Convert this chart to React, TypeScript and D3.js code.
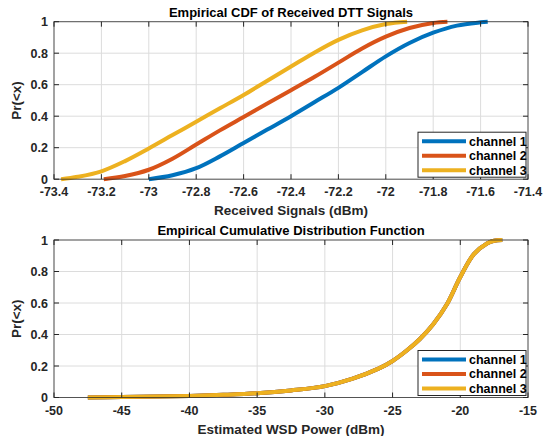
import React from "react";
import * as d3 from "d3";

const seriesNames = ["channel 1", "channel 2", "channel 3"];
const seriesColors = ["#0072BD", "#D95319", "#EDB120"];

// Top chart: Received Signals (dBm) vs Pr(<x)
const topX1 = [-73.0, -72.9, -72.8, -72.7, -72.6, -72.5, -72.4, -72.3, -72.2, -72.1, -72.0, -71.9, -71.8, -71.7, -71.6, -71.57];
const topY1 = [0.0, 0.025, 0.07, 0.145, 0.23, 0.315, 0.40, 0.49, 0.58, 0.68, 0.78, 0.865, 0.93, 0.975, 0.996, 1.0];
const topX2 = [-73.19, -73.1, -73.0, -72.9, -72.8, -72.7, -72.6, -72.5, -72.4, -72.3, -72.2, -72.1, -72.0, -71.9, -71.8, -71.74];
const topY2 = [0.0, 0.02, 0.06, 0.13, 0.22, 0.31, 0.395, 0.48, 0.565, 0.65, 0.74, 0.83, 0.905, 0.96, 0.992, 1.0];
const topX3 = [-73.37, -73.3, -73.2, -73.1, -73.0, -72.9, -72.8, -72.7, -72.6, -72.5, -72.4, -72.3, -72.2, -72.1, -72.0, -71.91];
const topY3 = [0.0, 0.015, 0.05, 0.115, 0.195, 0.28, 0.365, 0.45, 0.535, 0.625, 0.715, 0.805, 0.885, 0.945, 0.985, 1.0];

// Bottom chart: Estimated WSD Power (dBm) vs Pr(<x)
const botX = [-47.5, -45, -42.5, -40, -37.5, -35, -32.5, -30, -28, -26, -25, -24, -23, -22, -21, -20, -19, -18, -17.5, -16.9];
const botY = [0.0, 0.003, 0.006, 0.01, 0.017, 0.027, 0.045, 0.072, 0.118, 0.185, 0.232, 0.295, 0.37, 0.465, 0.59, 0.765, 0.91, 0.98, 0.995, 1.0];

const topXTicks = [-73.4, -73.2, -73, -72.8, -72.6, -72.4, -72.2, -72, -71.8, -71.6, -71.4];
const botXTicks = [-50, -45, -40, -35, -30, -25, -20, -15];
const yTicks = [0, 0.2, 0.4, 0.6, 0.8, 1];

const FONT = "'Liberation Sans', Arial, Helvetica, sans-serif";
const AX = "#262626";

type Series = { xs: number[]; ys: number[]; color: string; name: string };

function Panel(props: {
  top: number;
  xDomain: [number, number];
  xTicks: number[];
  title: string;
  xLabel: string;
  series: Series[];
}) {
  const left = 54;
  const right = 528;
  const height = 157.5;
  const { top } = props;
  const bottom = top + height;
  const x = d3.scaleLinear().domain(props.xDomain).range([left, right]);
  const y = d3.scaleLinear().domain([0, 1]).range([bottom, top]);
  const line = d3
    .line<[number, number]>()
    .x((d) => x(d[0]))
    .y((d) => y(d[1]))
    .curve(d3.curveCatmullRom.alpha(0.5));
  const fmt = (v: number) => String(+v.toFixed(1));
  const tl = 5;
  const legX = 418;
  const legW = 108;
  const legH = 45;
  const legY = bottom - 2 - legH;
  return (
    <g>
      {props.xTicks.map((t) => (
        <line key={"gx" + t} x1={x(t)} x2={x(t)} y1={top} y2={bottom} stroke="#dcdcdc" strokeWidth={1} />
      ))}
      {yTicks.map((t) => (
        <line key={"gy" + t} x1={left} x2={right} y1={y(t)} y2={y(t)} stroke="#dcdcdc" strokeWidth={1} />
      ))}
      {props.series.map((s, i) => (
        <path
          key={"s" + i}
          d={line(s.xs.map((v, j) => [v, s.ys[j]] as [number, number])) || ""}
          fill="none"
          stroke={s.color}
          strokeWidth={4}
          strokeLinecap="butt"
        />
      ))}
      <rect x={left} y={top} width={right - left} height={height} fill="none" stroke={AX} strokeOpacity={0.75} strokeWidth={1} />
      {props.xTicks.map((t) => (
        <g key={"tx" + t}>
          <line x1={x(t)} x2={x(t)} y1={bottom} y2={bottom - tl} stroke={AX} />
          <line x1={x(t)} x2={x(t)} y1={top} y2={top + tl} stroke={AX} />
          <text x={x(t)} y={bottom + 17} textAnchor="middle" fontFamily={FONT} fontWeight="bold" fontSize={12.5} fill={AX}>
            {fmt(t)}
          </text>
        </g>
      ))}
      {yTicks.map((t) => (
        <g key={"ty" + t}>
          <line x1={left} x2={left + tl} y1={y(t)} y2={y(t)} stroke={AX} />
          <line x1={right} x2={right - tl} y1={y(t)} y2={y(t)} stroke={AX} />
          <text x={left - 6} y={y(t) + 4.5} textAnchor="end" fontFamily={FONT} fontWeight="bold" fontSize={12.5} fill={AX}>
            {fmt(t)}
          </text>
        </g>
      ))}
      <text x={(left + right) / 2} y={top - 5} textAnchor="middle" fontFamily={FONT} fontWeight="bold" fontSize={13} fill="#000">
        {props.title}
      </text>
      <text x={(left + right) / 2} y={bottom + 36} textAnchor="middle" fontFamily={FONT} fontWeight="bold" fontSize={13.5} fill={AX}>
        {props.xLabel}
      </text>
      <text
        transform={`translate(${21},${(top + bottom) / 2}) rotate(-90)`}
        textAnchor="middle"
        fontFamily={FONT}
        fontWeight="bold"
        fontSize={13.5}
        fill={AX}
      >
        Pr(&lt;x)
      </text>
      <rect x={legX} y={legY} width={legW} height={legH} fill="#fff" stroke={AX} strokeWidth={1} />
      {props.series.map((s, i) => (
        <g key={"l" + i}>
          <line x1={legX + 4} x2={legX + 48} y1={legY + 9 + i * 14.5} y2={legY + 9 + i * 14.5} stroke={s.color} strokeWidth={4} />
          <text x={legX + 51} y={legY + 13.3 + i * 14.5} fontFamily={FONT} fontWeight="bold" fontSize={12.5} fill="#000">
            {s.name}
          </text>
        </g>
      ))}
    </g>
  );
}

export default function App() {
  const topSeries: Series[] = [
    { xs: topX1, ys: topY1, color: seriesColors[0], name: seriesNames[0] },
    { xs: topX2, ys: topY2, color: seriesColors[1], name: seriesNames[1] },
    { xs: topX3, ys: topY3, color: seriesColors[2], name: seriesNames[2] },
  ];
  const botSeries: Series[] = seriesNames.map((n, i) => ({ xs: botX, ys: botY, color: seriesColors[i], name: n }));
  return (
    <svg width={555} height={436} style={{ position: "absolute", left: 0, top: 0, background: "#fff" }}>
      <rect x={0} y={0} width={555} height={436} fill="#fff" />
      <Panel
        top={21.7}
        xDomain={[-73.4, -71.4]}
        xTicks={topXTicks}
        title="Empirical CDF of Received DTT Signals"
        xLabel="Received Signals (dBm)"
        series={topSeries}
      />
      <Panel
        top={240}
        xDomain={[-50, -15]}
        xTicks={botXTicks}
        title="Empirical Cumulative Distribution Function"
        xLabel="Estimated WSD Power (dBm)"
        series={botSeries}
      />
    </svg>
  );
}
